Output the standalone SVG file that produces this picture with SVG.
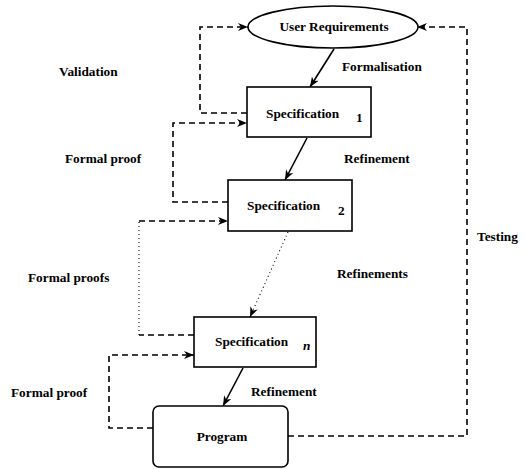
<svg xmlns="http://www.w3.org/2000/svg" width="526" height="469" viewBox="0 0 526 469">
  <style>
    .node { fill: #fff; stroke: #000; stroke-width: 1.6; }
    .lbl { font-family: "Liberation Serif", "Times New Roman", serif; font-size: 13.3px; font-weight: bold; fill: #000; }
    .solid { fill: none; stroke: #000; stroke-width: 1.6; marker-end: url(#arrow); }
    .dash { fill: none; stroke: #000; stroke-width: 1.6; stroke-dasharray: 6 4; }
    .dot { fill: none; stroke: #000; stroke-width: 1.1; stroke-dasharray: 1 3; }
    .head { marker-end: url(#arrow); }
  </style>
  <defs>
    <marker id="arrow" viewBox="0 0 10 8" refX="10" refY="4" markerWidth="10" markerHeight="8" markerUnits="userSpaceOnUse" orient="auto">
      <path d="M0,0 L10,4 L0,8 L3,4 z" fill="#000"/>
    </marker>
  </defs>
  <rect width="526" height="469" fill="#fff"/>

  <!-- connectors -->
  <g id="connectors">
    <!-- refinement chain -->
    <line class="solid" x1="334" y1="49" x2="310" y2="87"/>
    <line class="solid" x1="307" y1="138" x2="285" y2="180"/>
    <line class="dot head" x1="288" y1="232" x2="250" y2="317"/>
    <line class="solid" x1="243" y1="368" x2="223" y2="406"/>
    <!-- validation loop -->
    <polyline class="dash head" points="247,113 200,113 200,27 248,27"/>
    <!-- formal proof: spec 2 to spec 1 -->
    <polyline class="dash head" points="228,202 173,202 173,123 247,123"/>
    <!-- formal proofs: spec n to spec 2 -->
    <polyline class="dash" points="194,335 139,335"/>
    <line class="dot" x1="139" y1="335" x2="139" y2="221"/>
    <polyline class="dash head" points="139,221 228,221"/>
    <!-- formal proof: program to spec n -->
    <polyline class="dash head" points="153,428 109,428 109,355 194,355"/>
    <!-- testing -->
    <polyline class="dash head" points="288,436 467,436 467,27 417,27"/>
  </g>

  <g id="user-requirements">
    <ellipse class="node" cx="333" cy="27" rx="85" ry="21"/>
    <text class="lbl" x="334" y="31" text-anchor="middle">User  Requirements</text>
  </g>

  <g id="spec-1">
    <rect class="node" x="247" y="87" width="124" height="50"/>
    <text class="lbl" x="266" y="118">Specification</text>
    <text class="lbl" x="356" y="122" font-size="11">1</text>
  </g>

  <g id="spec-2">
    <rect class="node" x="228" y="180" width="124" height="51"/>
    <text class="lbl" x="247" y="210">Specification</text>
    <text class="lbl" x="338" y="215" font-size="11">2</text>
  </g>

  <g id="spec-n">
    <rect class="node" x="194" y="317" width="122" height="50"/>
    <text class="lbl" x="215" y="346">Specification</text>
    <text class="lbl" x="303" y="350" font-size="11" font-style="italic">n</text>
  </g>

  <g id="program">
    <rect class="node" x="153" y="406" width="135" height="61" rx="6" ry="6"/>
    <text class="lbl" x="222" y="441" text-anchor="middle">Program</text>
  </g>

  <g id="labels">
    <text class="lbl" x="59" y="76">Validation</text>
    <text class="lbl" x="342" y="71">Formalisation</text>
    <text class="lbl" x="65" y="163">Formal proof</text>
    <text class="lbl" x="344" y="163">Refinement</text>
    <text class="lbl" x="28" y="282">Formal proofs</text>
    <text class="lbl" x="337" y="278">Refinements</text>
    <text class="lbl" x="11" y="397">Formal proof</text>
    <text class="lbl" x="251" y="396">Refinement</text>
    <text class="lbl" x="477" y="241">Testing</text>
  </g>
</svg>
